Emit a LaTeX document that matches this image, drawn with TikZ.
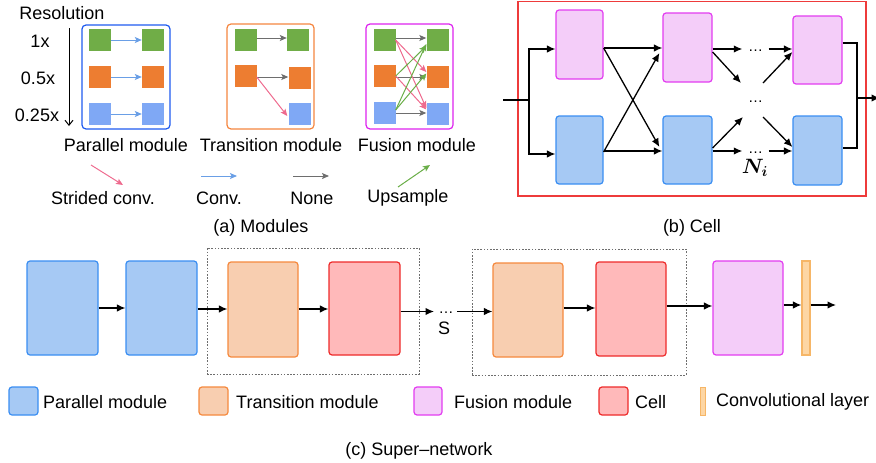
\documentclass[tikz,border=0pt]{standalone}
\usepackage{bm}
\usepackage{fontspec}
\setmainfont{Liberation Sans}
\usetikzlibrary{arrows.meta,calc}
\definecolor{cGreen}{HTML}{70AD47}
\definecolor{cOrange}{HTML}{ED7D31}
\definecolor{cBlueSq}{HTML}{7FA8F5}
\definecolor{cPink}{HTML}{EE6A8E}
\definecolor{cBlueArr}{HTML}{6A9FE6}
\definecolor{cGray}{HTML}{6E6E6E}
\definecolor{cGreenArr}{HTML}{6AAE48}
\definecolor{pBorder}{HTML}{1F5BEF}
\definecolor{tBorder}{HTML}{F5853F}
\definecolor{fBorder}{HTML}{DD22EE}
\definecolor{blueFill}{HTML}{A6C9F4}
\definecolor{blueLine}{HTML}{3A8EF2}
\definecolor{orFill}{HTML}{F8CEB0}
\definecolor{orLine}{HTML}{F5893E}
\definecolor{rdFill}{HTML}{FFB9BA}
\definecolor{rdLine}{HTML}{EE2B2B}
\definecolor{fuFill}{HTML}{F4CDF9}
\definecolor{fuLine}{HTML}{E23CF0}
\definecolor{cvFill}{HTML}{FDD6A4}
\definecolor{cvLine}{HTML}{F6B667}
\definecolor{cellLine}{HTML}{EE3B3B}
\tikzset{
  sq/.style={minimum width=22pt,minimum height=22pt,inner sep=0pt,fill=#1},
  modbox/.style={draw=#1,line width=1.2pt,rounded corners=4pt,inner sep=0pt},
  blk/.style 2 args={draw=#1,fill=#2,line width=1.2pt,rounded corners=3pt,inner sep=0pt},
  arrA/.style={draw=#1,line width=1pt,-{Stealth[length=7pt,width=6pt,inset=1.5pt]}},
  arrB/.style={line width=1.3pt,-{Latex[length=8.5pt,width=7.5pt]}},
  plain/.style={line width=1.3pt},
  txt/.style={inner sep=0pt},
  dotsnode/.style={inner sep=0pt,minimum width=26pt,anchor=base,font=\fontsize{15}{16}\selectfont},
  dashbox/.style={draw=cGray,line width=0.8pt,dash pattern=on 1.6pt off 1.6pt,inner sep=0pt},
}
\begin{document}
\begin{tikzpicture}[x=1pt,y=-1pt,font=\fontsize{18}{21}\selectfont]
\useasboundingbox (0,0) rectangle (876,463);

% ---------------- (a) Modules ----------------
\node[txt] (res) at (62,13) {Resolution};
\coordinate (r1) at (69,28);
\coordinate (r2) at (69,126);
\draw[line width=1pt,-{Straight Barb[length=5pt,width=8pt]}] (r1) -- (r2);
\node[txt] (l1) at (40,41) {1x};
\node[txt] (l2) at (38,78) {0.5x};
\node[txt] (l3) at (37,115) {0.25x};

% parallel module
\node[modbox=pBorder,minimum width=88pt,minimum height=104pt] (pbox) at (126,77) {};
\node[sq=cGreen] (pgL) at (100,40) {};
\node[sq=cGreen] (pgR) at (153,40) {};
\node[sq=cOrange] (poL) at (100,77) {};
\node[sq=cOrange] (poR) at (153,77) {};
\node[sq=cBlueSq] (pbL) at (100,114) {};
\node[sq=cBlueSq] (pbR) at (153,114) {};
\draw[arrA=cBlueArr] (pgL.east) -- (pgR.west);
\draw[arrA=cBlueArr] (poL.east) -- (poR.west);
\draw[arrA=cBlueArr] (pbL.east) -- (pbR.west);

% transition module
\node[modbox=tBorder,minimum width=87pt,minimum height=105pt] (tbox) at (270.5,76.5) {};
\node[sq=cGreen] (tgL) at (245.5,40) {};
\node[sq=cGreen] (tgR) at (298,40) {};
\node[sq=cOrange] (toL) at (245.5,76) {};
\node[sq=cOrange] (toR) at (299.5,78) {};
\node[sq=cBlueSq] (tbR) at (299.5,114) {};
\draw[arrA=cGray] ($(tgL.east)+(0,-2)$) -- ($(tgR.west)+(0,-2)$);
\draw[arrA=cGray] ($(toL.east)+(0,1)$) -- ($(toR.west)+(0,-1)$);
\draw[arrA=cPink] ($(toL.east)+(0,1)$) -- ($(tbR.west)+(-1,2)$);

% fusion module
\node[modbox=fBorder,minimum width=87pt,minimum height=105pt] (fbox) at (409.5,76.5) {};
\node[sq=cGreen] (fgL) at (384.5,40) {};
\node[sq=cGreen] (fgR) at (437.5,40) {};
\node[sq=cOrange] (foL) at (384.5,76) {};
\node[sq=cOrange] (foR) at (437.5,76.5) {};
\node[sq=cBlueSq] (fbL) at (384.5,113) {};
\node[sq=cBlueSq] (fbR) at (437.5,113.5) {};
\draw[arrA=cGray] ($(fgL.east)+(0,-2)$) -- ($(fgR.west)+(0,-2)$);
\draw[arrA=cGray] ($(foL.east)+(0,1)$) -- ($(foR.west)+(0,0.5)$);
\draw[arrA=cGray] ($(fbL.east)+(0,0)$) -- ($(fbR.west)+(0,-0.5)$);
\draw[arrA=cPink] (fgL.east) -- ($(foR.west)+(0,-4.5)$);
\draw[arrA=cPink] (fgL.east) -- ($(fbR.west)+(0,-5.5)$);
\draw[arrA=cPink] (foL.east) -- ($(fbR.west)+(0,-4)$);
\draw[arrA=cGreenArr] ($(fbL.east)+(0,-3)$) -- ($(fgR.west)+(0,4)$);
\draw[arrA=cGreenArr] ($(fbL.east)+(0,-3)$) -- ($(foR.west)+(0,-3)$);
\draw[arrA=cGreenArr] (foL.east) -- ($(fgR.west)+(0,6)$);

\node[txt] (tp) at (126,145) {Parallel module};
\node[txt] (tt) at (271,145) {Transition module};
\node[txt] (tf) at (417,145) {Fusion module};

% legend arrows
\coordinate (ka1) at (91,165);  \coordinate (ka2) at (123,185);
\coordinate (kb1) at (201,176); \coordinate (kb2) at (237,176);
\coordinate (kc1) at (293,176); \coordinate (kc2) at (329,176);
\coordinate (kd1) at (398,187); \coordinate (kd2) at (430,165);
\draw[arrA=cPink] (ka1) -- (ka2);
\draw[arrA=cBlueArr] (kb1) -- (kb2);
\draw[arrA=cGray] (kc1) -- (kc2);
\draw[arrA=cGreenArr] (kd1) -- (kd2);
\node[txt] (ks) at (103,198) {Strided conv.};
\node[txt] (kc) at (219,198) {Conv.};
\node[txt] (kn) at (312,198) {None};
\node[txt] (ku) at (408,198) {Upsample};
\node[txt] (capa) at (261,228) {(a) Modules};

% ---------------- (b) Cell ----------------
\node[draw=cellLine,line width=1.3pt,minimum width=348pt,minimum height=194.5pt,inner sep=0pt] (cellbox) at (692,98.75) {};
\node[blk={fuLine}{fuFill},minimum width=47pt,minimum height=69pt] (p1) at (579.5,44.5) {};
\node[blk={blueLine}{blueFill},minimum width=47pt,minimum height=68pt] (b1) at (579.5,150) {};
\node[blk={fuLine}{fuFill},minimum width=49pt,minimum height=69pt] (p2) at (687.5,47.5) {};
\node[blk={blueLine}{blueFill},minimum width=49pt,minimum height=68pt] (b2) at (687.5,150) {};
\node[blk={fuLine}{fuFill},minimum width=49pt,minimum height=68pt] (p3) at (817.5,50) {};
\node[blk={blueLine}{blueFill},minimum width=49pt,minimum height=69pt] (b3) at (817.5,150.5) {};

\coordinate (cin) at (503,100);
\coordinate (jn) at (529,100);
\draw[plain] (cin) -- (jn);
\draw[arrB] (jn) |- ($(p1.west)+(0,4.5)$);
\draw[arrB] (jn) |- ($(b1.west)+(0,4)$);
\draw[arrB] ($(p1.east)+(0,3.5)$) -- ($(p2.west)+(0,0.5)$);
\draw[arrB] ($(b1.east)+(0,1)$) -- ($(b2.west)+(0,1)$);
\draw[arrB] ($(p1.east)+(0,3.5)$) -- ($(b2.west)+(-3,-3)$);
\draw[arrB] ($(b1.east)+(0,2)$) -- ($(p2.west)+(-3,5.5)$);

% dots: baseline placed 2pt below the arrow line
\node[dotsnode] (d1) at (755.5,51) {…};
\node[dotsnode] (d2) at (755.5,102) {…};
\node[dotsnode] (d3) at (755.5,153) {…};
\draw[arrB] ($(p2.east)+(0,1.5)$) -- ($(d1.base west)+(0,-2)$);
\draw[arrB] ($(d1.base east)+(0,-2)$) -- ($(p3.west)+(0,-1)$);
\draw[arrB] ($(b2.east)+(0,1)$) -- ($(d3.base west)+(0,-2)$);
\draw[arrB] ($(d3.base east)+(0,-2)$) -- ($(b3.west)+(0,0.5)$);
\coordinate (x1) at (741,83);
\coordinate (x2) at (763,83);
\coordinate (x3) at (743,117);
\coordinate (x4) at (763,117);
\draw[arrB] ($(p2.east)+(0,4.5)$) -- (x1);
\draw[arrB] (x2) -- ($(p3.west)+(0,2)$);
\draw[arrB] ($(b2.east)+(0,-2)$) -- (x3);
\draw[arrB] (x4) -- ($(b3.west)+(0,-3.5)$);
\node[txt,font=\fontsize{20}{22}\selectfont] (ni) at (755,168) {$\bm{N_i}$};

\coordinate (jo) at (857,98);
\coordinate (cout) at (880,98);
\draw[plain] ($(p3.east)+(0,-7)$) -| (jo) |- ($(b3.east)+(0,-2.5)$);
\draw[arrB] (jo) -- (cout);
\node[txt] (capb) at (692,228) {(b) Cell};

% ---------------- (c) Super-network ----------------
\node[dashbox,minimum width=212pt,minimum height=126pt] (db1) at (313,311) {};
\node[dashbox,minimum width=214pt,minimum height=126pt] (db2) at (579,312) {};
\node[blk={blueLine}{blueFill},minimum width=71pt,minimum height=94pt] (s1) at (62.5,308) {};
\node[blk={blueLine}{blueFill},minimum width=71pt,minimum height=94pt] (s2) at (161.5,308) {};
\node[blk={orLine}{orFill},minimum width=70pt,minimum height=95pt] (s3) at (263,309.5) {};
\node[blk={rdLine}{rdFill},minimum width=71pt,minimum height=93pt] (s4) at (364.5,308.5) {};
\node[blk={orLine}{orFill},minimum width=70pt,minimum height=94pt] (s5) at (528,310) {};
\node[blk={rdLine}{rdFill},minimum width=70pt,minimum height=94pt] (s6) at (631,309) {};
\node[blk={fuLine}{fuFill},minimum width=70pt,minimum height=94pt] (s7) at (748,308) {};
\node[draw=cvLine,fill=cvFill,line width=1.2pt,minimum width=8pt,minimum height=94pt,inner sep=0pt] (s8) at (806,308) {};

\draw[arrB] (s1.east) -- (s2.west);
\draw[arrB] ($(s2.east)+(0,1)$) -- ($(s3.west)+(0,-0.5)$);
\draw[arrB] ($(s3.east)+(0,-0.5)$) -- ($(s4.west)+(0,0.5)$);
\coordinate (e1) at (434,311.5);
\draw[arrB] ($(s4.east)+(0,3)$) -- (e1);
\node[dotsnode,minimum width=22pt] (sd) at (446,313.5) {…};
\node[txt] (sS) at (444,328) {S};
\draw[arrB] ($(sd.base east)+(0,-2)$) -- ($(s5.west)+(0,1.5)$);
\draw[arrB] ($(s5.east)+(0,-2)$) -- ($(s6.west)+(0,-1)$);
\draw[arrB] ($(s6.east)+(0,-3)$) -- ($(s7.west)+(0,-2)$);
\draw[arrB] ($(s7.east)+(0,-3)$) -- ($(s8.west)+(0,-3)$);
\coordinate (e2) at (836,305);
\draw[arrB] ($(s8.east)+(0,-3)$) -- (e2);

% legend
\node[blk={blueLine}{blueFill},minimum width=29pt,minimum height=28pt] (g1) at (23.5,401) {};
\node[txt,anchor=west] (gt1) at (43,402) {Parallel module};
\node[blk={orLine}{orFill},minimum width=29pt,minimum height=28pt] (g2) at (213.5,401) {};
\node[txt,anchor=west] (gt2) at (236,402) {Transition module};
\node[blk={fuLine}{fuFill},minimum width=28pt,minimum height=28pt] (g3) at (428,401) {};
\node[txt,anchor=west] (gt3) at (454,402) {Fusion module};
\node[blk={rdLine}{rdFill},minimum width=29pt,minimum height=28pt] (g4) at (613.5,401) {};
\node[txt,anchor=west] (gt4) at (635,402) {Cell};
\node[draw=cvLine,fill=cvFill,line width=1pt,minimum width=5pt,minimum height=28pt,inner sep=0pt] (g5) at (703,401) {};
\node[txt,anchor=west] (gt5) at (716,402) {Convolutional layer};
\node[txt] (capc) at (419,451) {(c) Super–network};
\end{tikzpicture}
\end{document}
